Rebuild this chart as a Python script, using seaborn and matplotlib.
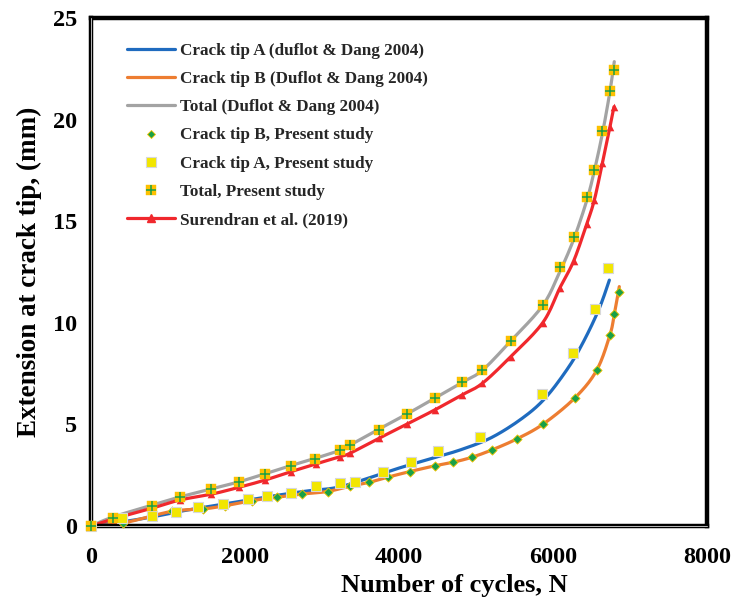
import numpy as np
import pandas as pd
import matplotlib
matplotlib.use("Agg")
import matplotlib.pyplot as plt
from matplotlib.lines import Line2D
import seaborn as sns

# Duflot & Dang (2004) reference curves
tipA_ref_x = [0, 400, 800, 1200, 1600, 2000, 2400, 2800, 3200, 3600, 4000, 4400, 4800, 5200, 5600, 5900, 6200, 6400, 6600, 6732]
tipA_ref_y = [0, 0.2, 0.45, 0.75, 1.0, 1.25, 1.5, 1.72, 1.9, 2.35, 2.85, 3.3, 3.75, 4.35, 5.3, 6.3, 7.8, 9.1, 10.7, 12.1]

tipB_ref_x = [0, 420, 1048, 1459, 1745, 2087, 2411, 2736, 3074, 3364, 3614, 3861, 4143, 4463, 4706, 4944, 5204, 5528, 5874, 6286, 6567, 6740, 6796, 6861]
tipB_ref_y = [0, 0.15, 0.72, 0.84, 1.0, 1.25, 1.41, 1.57, 1.7, 1.96, 2.15, 2.41, 2.68, 2.96, 3.14, 3.38, 3.74, 4.28, 5.02, 6.31, 7.66, 9.41, 10.42, 11.78]

total_ref_x = [0, 290, 788, 1156, 1558, 1918, 2260, 2593, 2913, 3229, 3364, 3736, 4108, 4468, 4822, 5082, 5450, 5866, 6087, 6268, 6437, 6532, 6641, 6736, 6796]
total_ref_y = [0, 0.45, 1.02, 1.43, 1.82, 2.17, 2.57, 2.97, 3.33, 3.72, 3.98, 4.76, 5.52, 6.3, 7.07, 7.66, 9.1, 10.85, 12.5, 14.1, 16.0, 17.4, 19.3, 21.3, 22.85]

# Present study
tipB_pres_x = [0, 420, 1048, 1459, 1745, 2087, 2411, 2736, 3074, 3364, 3614, 3861, 4143, 4463, 4706, 4944, 5204, 5528, 5874, 6286, 6567, 6740, 6796, 6861]
tipB_pres_y = [0, 0.13, 0.75, 0.82, 0.98, 1.25, 1.41, 1.57, 1.69, 1.97, 2.15, 2.41, 2.68, 2.96, 3.14, 3.38, 3.74, 4.28, 5.02, 6.31, 7.66, 9.41, 10.42, 11.53]

tipA_pres_x = [0, 398, 788, 1104, 1394, 1719, 2043, 2290, 2593, 2918, 3229, 3429, 3797, 4152, 4510, 5050, 5853, 6255, 6545, 6718]
tipA_pres_y = [0, 0.4, 0.5, 0.67, 0.93, 1.07, 1.34, 1.46, 1.64, 1.99, 2.1, 2.15, 2.68, 3.17, 3.69, 4.4, 6.5, 8.5, 10.7, 12.68]

total_pres_x = [0, 290, 788, 1156, 1558, 1918, 2260, 2593, 2913, 3229, 3364, 3736, 4108, 4468, 4822, 5082, 5450, 5866, 6087, 6268, 6437, 6532, 6641, 6736, 6792]
total_pres_y = [0, 0.41, 1.0, 1.41, 1.82, 2.15, 2.57, 2.97, 3.31, 3.74, 3.97, 4.74, 5.51, 6.31, 7.07, 7.68, 9.12, 10.89, 12.76, 14.22, 16.2, 17.5, 19.44, 21.42, 22.43]

# Surendran et al. (2019)
sur_x = [0, 290, 788, 1156, 1558, 1918, 2260, 2593, 2918, 3229, 3364, 3736, 4108, 4463, 4818, 5082, 5450, 5866, 6087, 6268, 6437, 6536, 6641, 6740, 6792]
sur_y = [0, 0.35, 0.87, 1.28, 1.56, 1.9, 2.26, 2.67, 3.05, 3.41, 3.58, 4.31, 5.02, 5.71, 6.45, 7.02, 8.33, 10.0, 11.7, 13.04, 14.85, 16.03, 17.85, 19.65, 20.63]

x_ticks = [0, 2000, 4000, 6000, 8000]
y_ticks = [0, 5, 10, 15, 20, 25]

labels = [
    "Crack tip A (duflot & Dang 2004)",
    "Crack tip B (Duflot & Dang 2004)",
    "Total (Duflot & Dang 2004)",
    "Crack tip B, Present study",
    "Crack tip A, Present study",
    "Total, Present study",
    "Surendran et al. (2019)",
]

BLUE = "#1f6bbf"
ORANGE = "#ed7d31"
GRAY = "#a3a3a3"
RED = "#f0282d"
YELLOW = "#f2e600"
GOLD = "#ffc000"
GREEN = "#18a048"


def smooth(xs, ys, n=12):
    """Catmull-Rom style smoothing of a polyline (like spreadsheet smoothed lines)."""
    p = np.column_stack([xs, ys]).astype(float)
    p = np.vstack([p[0], p, p[-1]])
    out = []
    for i in range(1, len(p) - 2):
        p0, p1, p2, p3 = p[i - 1], p[i], p[i + 1], p[i + 2]
        t = np.linspace(0, 1, n, endpoint=False)[:, None]
        seg = 0.5 * ((2 * p1) + (-p0 + p2) * t + (2 * p0 - 5 * p1 + 4 * p2 - p3) * t ** 2
                     + (-p0 + 3 * p1 - 3 * p2 + p3) * t ** 3)
        out.append(seg)
    out.append(p[-2][None, :])
    s = np.vstack(out)
    return s[:, 0], s[:, 1]


sns.set_theme(style="white")
plt.rcParams["font.family"] = ["Liberation Serif", "DejaVu Serif"]
plt.rcParams["font.weight"] = "bold"

fig = plt.figure(figsize=(7.38, 6.03), dpi=100)
ax = fig.add_axes([0.1233, 0.1277, 0.8347, 0.8425])

LW = 2.3

for xs, ys, col, z in [(tipA_ref_x, tipA_ref_y, BLUE, 2), (tipB_ref_x, tipB_ref_y, ORANGE, 2.1),
                       (total_ref_x, total_ref_y, GRAY, 2.2), (sur_x, sur_y, RED, 2.3)]:
    sx, sy = smooth(xs, ys)
    sns.lineplot(x=sx, y=sy, ax=ax, color=col, lw=LW, sort=False, estimator=None, zorder=z)

# triangles on the Surendran curve
sns.scatterplot(x=sur_x[1:], y=sur_y[1:], ax=ax, marker="^", s=30, color=RED, edgecolor=RED,
                linewidth=0, zorder=2.4)

# present study markers
sns.scatterplot(x=tipB_pres_x, y=tipB_pres_y, ax=ax, marker="D", s=22, color=GREEN,
                edgecolor="#f5c400", linewidth=0.6, zorder=3, clip_on=False)
sns.scatterplot(x=tipA_pres_x, y=tipA_pres_y, ax=ax, marker="s", s=58, color=YELLOW,
                edgecolor="#d8d8d8", linewidth=0.8, zorder=3.1, clip_on=False)
sns.scatterplot(x=total_pres_x, y=total_pres_y, ax=ax, marker="s", s=60, color=GOLD,
                edgecolor="#f5c400", linewidth=0.3, zorder=3.2, clip_on=False)
sns.scatterplot(x=total_pres_x, y=total_pres_y, ax=ax, marker="+", s=55, color=GREEN,
                linewidth=1.1, zorder=3.3, clip_on=False)

ax.set_xlim(0, 8000)
ax.set_ylim(0, 25)
ax.set_xticks(x_ticks)
ax.set_yticks(y_ticks)
ax.set_xticklabels([str(v) for v in x_ticks], fontsize=17.5, fontweight="bold")
ax.set_yticklabels([str(v) for v in y_ticks], fontsize=17.5, fontweight="bold")
ax.tick_params(axis="x", length=0, pad=15, colors="black")
ax.tick_params(axis="y", length=0, pad=10, colors="black")
ax.set_xlabel("Number of cycles, N", fontsize=19, fontweight="bold", color="black")
ax.xaxis.set_label_coords(0.59, -0.095)
ax.set_ylabel("Extension at crack tip, (mm)", fontsize=19.5, fontweight="bold", labelpad=8, color="black")

for side in ["top", "right", "left", "bottom"]:
    ax.spines[side].set_visible(True)
    ax.spines[side].set_color("black")
    ax.spines[side].set_linewidth(3.2)
    ax.spines[side].set_zorder(2.9)
ax.plot([0, 0], [0, 1], transform=ax.transAxes, color="#b8b8b8", lw=0.7, clip_on=False, zorder=2.95)
ax.plot([0, 1], [0, 0], transform=ax.transAxes, color="#b8b8b8", lw=0.7, clip_on=False, zorder=2.95)

handles = [
    Line2D([], [], color=BLUE, lw=LW),
    Line2D([], [], color=ORANGE, lw=LW),
    Line2D([], [], color=GRAY, lw=LW),
    Line2D([], [], ls="none", marker="D", ms=4, color=GREEN, mec="#f5c400", mew=0.6),
    Line2D([], [], ls="none", marker="s", ms=7, color=YELLOW, mec="#d8d8d8", mew=0.8),
    (Line2D([], [], ls="none", marker="s", ms=7.5, color=GOLD, mec="#f5c400", mew=0.3),
     Line2D([], [], ls="none", marker="+", ms=7, color=GREEN, mew=1.1)),
    Line2D([], [], color=RED, lw=LW, marker="^", ms=6, markevery=[1]),
]
leg = ax.legend(handles, labels, loc="upper left", bbox_to_anchor=(0.048, 0.965), frameon=False,
                prop={"family": ["Liberation Serif"], "weight": "bold", "size": 12.3},
                handlelength=2.8, handletextpad=0.3, labelspacing=0.72, borderaxespad=0)

fig.savefig("out.png", dpi=100, facecolor="white")
